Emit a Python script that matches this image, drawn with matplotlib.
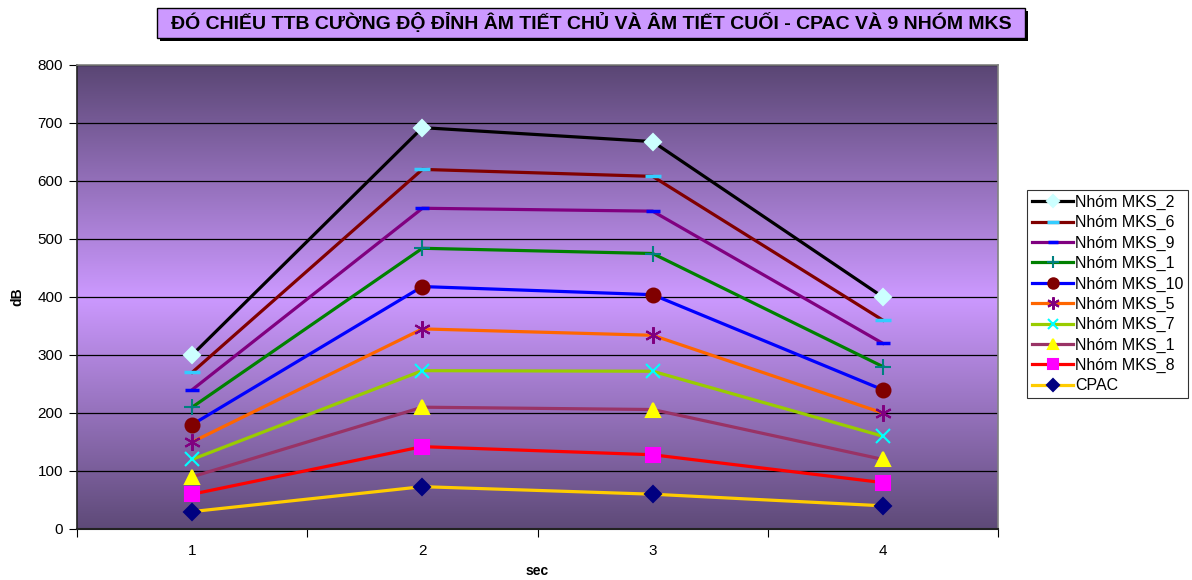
import numpy as np
import matplotlib
matplotlib.use('Agg')
import matplotlib.pyplot as plt
from matplotlib.colors import LinearSegmentedColormap
from matplotlib.patches import Rectangle

# Data
categories = ['1', '2', '3', '4']
series_names = ['Nhóm MKS_2', 'Nhóm MKS_6', 'Nhóm MKS_9', 'Nhóm MKS_1', 'Nhóm MKS_10',
                'Nhóm MKS_5', 'Nhóm MKS_7', 'Nhóm MKS_1', 'Nhóm MKS_8', 'CPAC']
mks_2 = [300, 692, 668, 400]
mks_6 = [270, 620, 608, 360]
mks_9 = [240, 553, 548, 320]
mks_1a = [210, 484, 475, 280]
mks_10 = [180, 418, 404, 240]
mks_5 = [150, 345, 334, 200]
mks_7 = [120, 273, 272, 160]
mks_1b = [90, 210, 206, 120]
mks_8 = [60, 142, 128, 80]
cpac = [30, 73, 60, 40]
series_values = [mks_2, mks_6, mks_9, mks_1a, mks_10, mks_5, mks_7, mks_1b, mks_8, cpac]

# styles: line colour, marker, marker colour, marker size
styles = [
    ('#000000', 'D', '#ccffff', 8),
    ('#800000', '_', '#33ccff', 12),
    ('#800080', '_', '#0000ff', 10),
    ('#008000', '+', '#008080', 12),
    ('#0000ff', 'o', '#800000', 10),
    ('#ff6600', (6, 2, 0), '#800080', 12),
    ('#99cc00', 'x', '#00ffff', 10),
    ('#993366', '^', '#ffff00', 10),
    ('#ff0000', 's', '#ff00ff', 10),
    ('#ffcc00', 'D', '#000080', 8),
]

plt.rcParams['font.family'] = ['Liberation Sans', 'DejaVu Sans']

fig = plt.figure(figsize=(11.92, 5.80), dpi=100, facecolor='white')
ax = fig.add_axes([77 / 1192, 51 / 580, 921 / 1192, 464 / 580])

# gradient background
cmap = LinearSegmentedColormap.from_list(
    'bg', [(0.0, '#5a4674'), (0.5, '#cc99ff'), (1.0, '#5e4a78')])
grad = np.linspace(0, 1, 256).reshape(-1, 1)
ax.imshow(grad, cmap=cmap, aspect='auto', extent=[0, 1, 0, 1],
          transform=ax.transAxes, zorder=0, origin='upper')

x = np.arange(1, len(categories) + 1)
for name, vals, (lc, mk, mc, ms) in zip(series_names, series_values, styles):
    mew = 2.5 if mk == '_' else 1.5
    ax.plot(x, vals, color=lc, lw=2.3, marker=mk, markersize=ms,
            markerfacecolor=mc, markeredgecolor=mc, markeredgewidth=mew,
            label=name, zorder=3, solid_joinstyle='miter')

ax.set_xlim(0.5, 4.5)
ax.set_ylim(0, 800)
ax.set_yticks(np.arange(0, 801, 100))
ax.yaxis.grid(True, color='black', lw=0.9, zorder=1)
ax.set_axisbelow(True)

ax.set_xticks(np.arange(0.5, 4.6, 1))
ax.set_xticklabels([])
ax.set_xticks(x, minor=True)
ax.set_xticklabels(categories, minor=True)
ax.tick_params(axis='x', which='minor', length=0, pad=11, labelsize=11)
ax.tick_params(axis='x', which='major', length=6, direction='out')
ax.tick_params(axis='y', length=6, direction='out', labelsize=11, pad=4)

for s in ['left', 'top', 'right']:
    ax.spines[s].set_color('#808080')
    ax.spines[s].set_linewidth(1.2)
ax.spines['bottom'].set_color('#222222')
ax.spines['bottom'].set_linewidth(1.5)
ax.spines['left'].set_color('#222222')

ax.set_ylabel('dB', fontsize=10, fontweight='bold')
ax.yaxis.set_label_coords((24 - 77) / 921, 0.5)
ax.set_xlabel('sec', fontsize=10, fontweight='bold')
ax.xaxis.set_label_coords(0.5, -(564 - 529) / 464)

leg = fig.legend(loc='upper left', bbox_to_anchor=(1027 / 1192, 1 - 190 / 580),
                 fontsize=11.5, frameon=True, fancybox=False, edgecolor='black',
                 handlelength=2.6, handletextpad=0.1, labelspacing=0.33,
                 borderpad=0.3, borderaxespad=0, markerscale=0.75)
leg.get_frame().set_linewidth(0.8)

# title with box and shadow
title = 'ĐÓ CHIẾU TTB CƯỜNG ĐỘ ĐỈNH ÂM TIẾT CHỦ VÀ ÂM TIẾT CUỐI - CPAC VÀ 9 NHÓM MKS'
fig.patches.append(Rectangle((160 / 1192, 1 - 41 / 580), 868 / 1192, 30 / 580,
                             transform=fig.transFigure, facecolor='black',
                             edgecolor='none', zorder=1))
fig.patches.append(Rectangle((157 / 1192, 1 - 38 / 580), 868 / 1192, 30 / 580,
                             transform=fig.transFigure, facecolor='#cc99ff',
                             edgecolor='black', lw=1, zorder=2))
fig.text(591 / 1192, 1 - 23 / 580, title, ha='center', va='center',
         fontsize=14, fontweight='bold', zorder=3)

fig.savefig('out.png', dpi=100, facecolor='white')
